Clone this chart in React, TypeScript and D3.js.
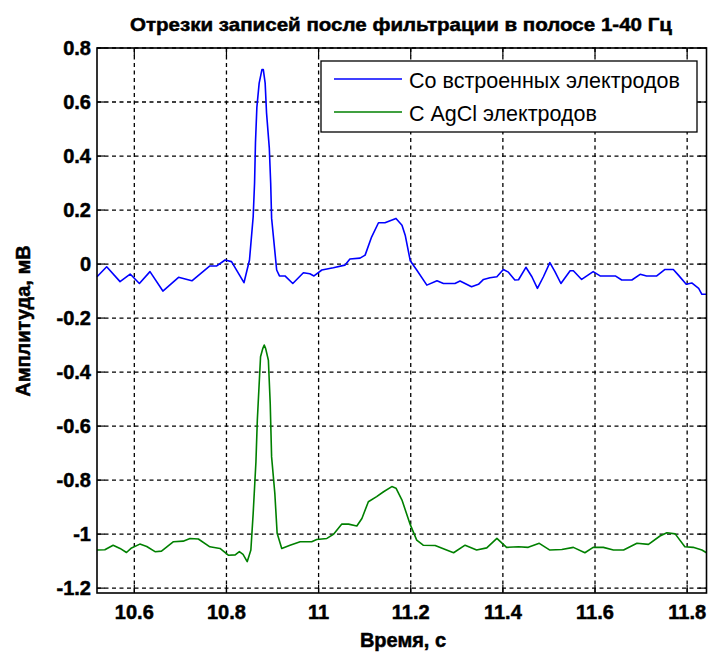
import React from "react";
import * as d3 from "d3";

const title = "Отрезки записей после фильтрации в полосе 1-40 Гц";
const xLabel = "Время, с";
const yLabel = "Амплитуда, мВ";
const seriesNames = ["Со встроенных электродов", "С AgCl электродов"];
const xTicks = [10.6, 10.8, 11, 11.2, 11.4, 11.6, 11.8];
const yTicks = [0.8, 0.6, 0.4, 0.2, 0, -0.2, -0.4, -0.6, -0.8, -1, -1.2];
const xDomain = [10.519, 11.842];
const yDomain = [-1.218, 0.8];

const blueT = [10.519, 10.540, 10.569, 10.591, 10.611, 10.634, 10.662, 10.696, 10.725, 10.764, 10.779, 10.797, 10.811, 10.838, 10.850, 10.858, 10.861, 10.863, 10.866, 10.871, 10.877, 10.880, 10.884, 10.887, 10.893, 10.896, 10.898, 10.909, 10.915, 10.927, 10.944, 10.967, 10.981, 10.990, 11.007, 11.032, 11.057, 11.068, 11.090, 11.101, 11.115, 11.130, 11.144, 11.168, 11.181, 11.188, 11.199, 11.213, 11.235, 11.257, 11.271, 11.296, 11.307, 11.332, 11.347, 11.358, 11.372, 11.387, 11.401, 11.412, 11.426, 11.434, 11.450, 11.463, 11.475, 11.488, 11.502, 11.513, 11.526, 11.546, 11.553, 11.571, 11.596, 11.611, 11.644, 11.658, 11.680, 11.698, 11.712, 11.734, 11.752, 11.770, 11.781, 11.798, 11.810, 11.825, 11.832, 11.842];
const blueV = [-0.047, -0.010, -0.065, -0.037, -0.072, -0.028, -0.100, -0.049, -0.062, -0.007, -0.007, 0.015, 0.009, -0.069, 0.015, 0.175, 0.30, 0.45, 0.58, 0.67, 0.72, 0.72, 0.67, 0.56, 0.43, 0.30, 0.17, -0.022, -0.044, -0.044, -0.072, -0.032, -0.036, -0.044, -0.022, -0.014, -0.004, 0.019, 0.022, 0.033, 0.10, 0.153, 0.153, 0.169, 0.144, 0.107, 0.012, -0.022, -0.078, -0.062, -0.072, -0.072, -0.063, -0.084, -0.075, -0.057, -0.051, -0.047, -0.020, -0.030, -0.059, -0.058, -0.012, -0.047, -0.090, -0.047, 0.005, -0.028, -0.072, -0.025, -0.025, -0.057, -0.028, -0.044, -0.044, -0.059, -0.059, -0.038, -0.044, -0.044, -0.020, -0.020, -0.041, -0.075, -0.070, -0.090, -0.112, -0.112];

const greenT = [10.519, 10.536, 10.554, 10.569, 10.583, 10.594, 10.612, 10.627, 10.645, 10.659, 10.685, 10.706, 10.721, 10.739, 10.764, 10.786, 10.804, 10.819, 10.828, 10.836, 10.845, 10.853, 10.858, 10.864, 10.867, 10.874, 10.879, 10.882, 10.885, 10.891, 10.895, 10.898, 10.905, 10.910, 10.920, 10.938, 10.960, 10.985, 10.996, 11.018, 11.032, 11.050, 11.065, 11.083, 11.094, 11.108, 11.126, 11.141, 11.159, 11.168, 11.181, 11.199, 11.213, 11.227, 11.253, 11.275, 11.293, 11.318, 11.343, 11.365, 11.387, 11.408, 11.434, 11.455, 11.479, 11.502, 11.528, 11.553, 11.578, 11.596, 11.618, 11.640, 11.662, 11.691, 11.716, 11.741, 11.756, 11.774, 11.795, 11.813, 11.832, 11.842];
const greenV = [-1.059, -1.058, -1.041, -1.053, -1.068, -1.051, -1.037, -1.046, -1.065, -1.063, -1.028, -1.026, -1.016, -1.018, -1.047, -1.053, -1.078, -1.077, -1.065, -1.075, -1.102, -1.059, -0.923, -0.732, -0.578, -0.343, -0.312, -0.300, -0.312, -0.356, -0.516, -0.714, -0.849, -0.997, -1.053, -1.041, -1.028, -1.028, -1.020, -1.016, -1.001, -0.963, -0.963, -0.970, -0.942, -0.880, -0.861, -0.843, -0.824, -0.830, -0.874, -0.965, -1.022, -1.041, -1.042, -1.057, -1.069, -1.041, -1.059, -1.051, -1.016, -1.049, -1.047, -1.049, -1.034, -1.059, -1.057, -1.049, -1.069, -1.049, -1.049, -1.059, -1.059, -1.034, -1.038, -1.007, -0.995, -0.999, -1.047, -1.049, -1.059, -1.069];

const colors = ["#0000ff", "#008000"];

export default function App() {
  const W = 711, H = 653;
  const left = 97, right = 706.5, top = 48, bottom = 593;
  const x = d3.scaleLinear().domain(xDomain).range([left, right]);
  const y = d3.scaleLinear().domain(yDomain).range([bottom, top]);
  const line = d3.line<[number, number]>().x(d => x(d[0])).y(d => y(d[1])).curve(d3.curveLinear);
  const blue: [number, number][] = blueT.map((t, i) => [t, blueV[i]]);
  const green: [number, number][] = greenT.map((t, i) => [t, greenV[i]]);
  const font = "'Liberation Sans', Arial, sans-serif";
  const tickLen = 8;
  const fmt = (v: number) => (Math.round(v * 10) / 10).toString();

  return (
    <svg width={W} height={H} style={{ position: "absolute", left: 0, top: 0, background: "#fff" }}>
      <rect x={0} y={0} width={W} height={H} fill="#fff" />
      <text x={401} y={31} fontFamily={font} fontWeight="bold" fontSize={19} textAnchor="middle"
        textLength={542} lengthAdjust="spacingAndGlyphs" fill="#000" stroke="#000" strokeWidth={0.5}>{title}</text>
      <g stroke="#000" strokeWidth={1.3} strokeDasharray="4,3.5">
        {xTicks.map(t => <line key={"gx" + t} x1={x(t)} x2={x(t)} y1={top} y2={bottom} />)}
        {yTicks.map(t => <line key={"gy" + t} x1={left} x2={right} y1={y(t)} y2={y(t)} />)}
      </g>
      <g stroke="#000" strokeWidth={1.2}>
        {xTicks.map(t => <g key={"tx" + t}>
          <line x1={x(t)} x2={x(t)} y1={bottom} y2={bottom - tickLen} />
          <line x1={x(t)} x2={x(t)} y1={top} y2={top + tickLen} />
        </g>)}
        {yTicks.map(t => <g key={"ty" + t}>
          <line x1={left} x2={left + tickLen} y1={y(t)} y2={y(t)} />
          <line x1={right} x2={right - tickLen} y1={y(t)} y2={y(t)} />
        </g>)}
      </g>
      <path d={line(blue) || ""} fill="none" stroke={colors[0]} strokeWidth={1.6} strokeLinejoin="round" />
      <path d={line(green) || ""} fill="none" stroke={colors[1]} strokeWidth={1.6} strokeLinejoin="round" />
      <rect x={left} y={top} width={right - left} height={bottom - top} fill="none" stroke="#000" strokeWidth={1.6} />
      <g fontFamily={font} fontWeight="bold" fontSize={20} fill="#000" stroke="#000" strokeWidth={0.5}>
        {xTicks.map(t => <text key={"lx" + t} x={x(t)} y={619} textAnchor="middle">{fmt(t)}</text>)}
        {yTicks.map(t => <text key={"ly" + t} x={91} y={y(t) + 7} textAnchor="end">{fmt(t)}</text>)}
      </g>
      <text x={403} y={647} fontFamily={font} fontWeight="bold" fontSize={20} textAnchor="middle" fill="#000" stroke="#000" strokeWidth={0.5}>{xLabel}</text>
      <text transform={`translate(30,321) rotate(-90)`} fontFamily={font} fontWeight="bold" fontSize={20} textAnchor="middle" fill="#000" stroke="#000" strokeWidth={0.5}>{yLabel}</text>
      <g>
        <rect x={321} y={61} width={376} height={71} fill="#fff" stroke="#000" strokeWidth={1.3} />
        {seriesNames.map((n, i) => (
          <g key={n}>
            <line x1={334} x2={402} y1={79 + i * 33} y2={79 + i * 33} stroke={colors[i]} strokeWidth={1.6} />
            <text x={409} y={88 + i * 33} fontFamily={font} fontSize={21.5} fill="#000">{n}</text>
          </g>
        ))}
      </g>
    </svg>
  );
}
